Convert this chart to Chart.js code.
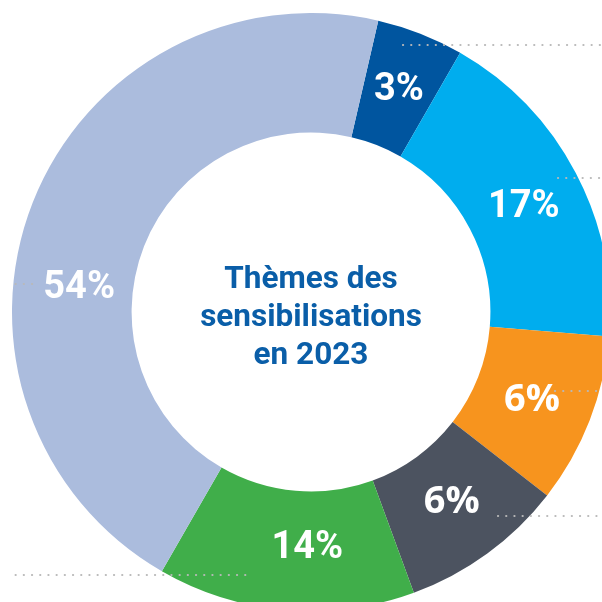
<!DOCTYPE html>
<html>
<head>
<meta charset="utf-8">
<script src="https://cdn.jsdelivr.net/npm/chart.js@4"></script>
<style>
  html, body { margin: 0; padding: 0; background: #ffffff; overflow: hidden; width: 602px; height: 602px; }
  #wrap { position: absolute; left: 12px; top: 13px; width: 598px; height: 598px; }
</style>
</head>
<body>
<div id="wrap"><canvas id="c"></canvas></div>
<script>
// Themes (order clockwise from the top)
const categories = ["Thème 1", "Thème 2", "Thème 3", "Thème 4", "Thème 5", "Thème 6"];
// Arc sizes as drawn in the picture (share of the ring)
const arcValues = [4.7, 18.0, 9.2, 8.9, 13.9, 45.3];
// Percent labels printed on the slices
const percentLabels = ["3%", "17%", "6%", "6%", "14%", "54%"];
const titleLines = ["Thèmes des", "sensibilisations", "en 2023"];

const colors = ["#00559f", "#00adee", "#f7941e", "#4c5360", "#40ae4a", "#abbcdd"];
// label nudges: [angle offset in degrees, radial offset in px]
const labelNudge = [[0, 1], [1, -1], [0, -2], [-0.6, -4], [-4, -4.5], [-15.3, -6]];
const labelFonts = ["Roboto", "Roboto", "Open Sans", "Open Sans", "Roboto", "Roboto"];
// decorative dotted leader lines, relative to chart centre: [y, x1, x2]
const leaders = [[-267, 92, 300], [-134, 247, 300], [79, 244, 300], [204, 187, 300], [263, -320, -61], [-28, -320, -272]];

const overlay = {
  id: 'overlay',
  afterDatasetsDraw(chart) {
    const ctx = chart.ctx;
    const meta = chart.getDatasetMeta(0);
    const arc0 = meta.data[0];
    const cx = arc0.x, cy = arc0.y;
    ctx.save();
    // dotted leaders
    ctx.strokeStyle = "#b9b9b9";
    ctx.lineWidth = 2.2;
    ctx.lineCap = "round";
    ctx.setLineDash([0.1, 8.1]);
    leaders.forEach(([dy, x1, x2]) => {
      ctx.beginPath();
      ctx.moveTo(cx + x1, cy + dy);
      ctx.lineTo(cx + x2, cy + dy);
      ctx.stroke();
    });
    ctx.setLineDash([]);
    // slice labels
    ctx.fillStyle = "#ffffff";
    ctx.textAlign = "center";
    ctx.textBaseline = "middle";
    meta.data.forEach((arc, i) => {
      const p = arc.getProps(['startAngle', 'endAngle', 'innerRadius', 'outerRadius'], true);
      const a = (p.startAngle + p.endAngle) / 2 + labelNudge[i][0] * Math.PI / 180;
      const r = (p.innerRadius + p.outerRadius) / 2 + labelNudge[i][1];
      ctx.font = "bold 38px '" + labelFonts[i] + "'";
      ctx.fillText(percentLabels[i], cx + r * Math.cos(a), cy + r * Math.sin(a) + 2);
    });
    // centre title
    ctx.fillStyle = "#0a5ea8";
    ctx.font = "bold 31.5px Roboto";
    ctx.textBaseline = "alphabetic";
    titleLines.forEach((t, k) => {
      ctx.fillText(t, cx, cy - 24 + k * 38);
    });
    ctx.restore();
  }
};

new Chart(document.getElementById('c'), {
  type: 'doughnut',
  data: {
    labels: categories,
    datasets: [{
      data: arcValues,
      backgroundColor: colors,
      borderWidth: 0,
      hoverOffset: 0
    }]
  },
  options: {
    responsive: true,
    maintainAspectRatio: false,
    animation: false,
    rotation: 13,
    cutout: '60%',
    layout: { padding: 0 },
    plugins: { legend: { display: false }, tooltip: { enabled: false } }
  },
  plugins: [overlay]
});
</script>
</body>
</html>
